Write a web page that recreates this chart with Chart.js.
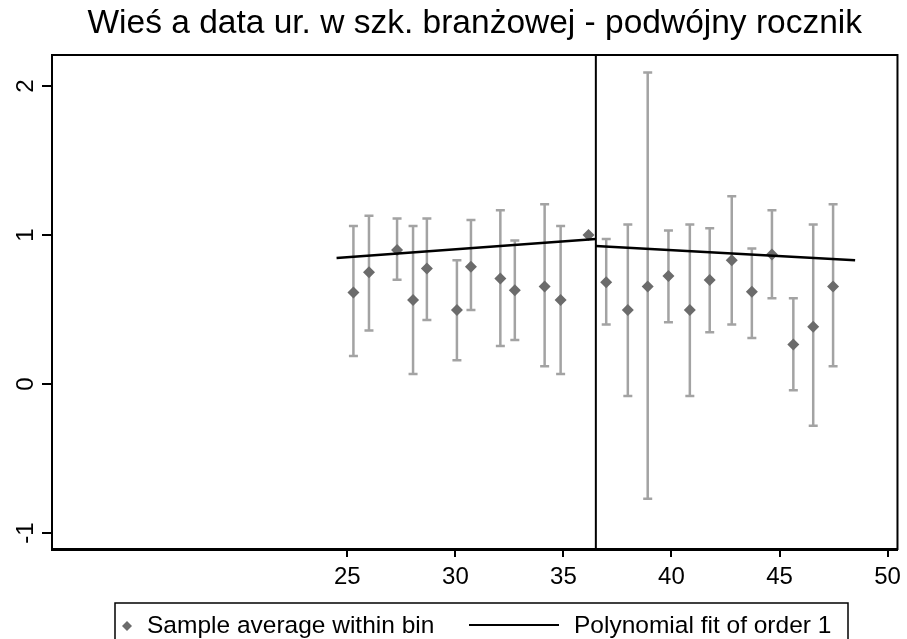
<!DOCTYPE html>
<html>
<head>
<meta charset="utf-8">
<script src="https://cdn.jsdelivr.net/npm/chart.js@4.4.1/dist/chart.umd.min.js"></script>
<style>
  html, body { margin: 0; padding: 0; background: #fff; }
  #wrap { width: 907px; height: 639px; }
</style>
</head>
<body>
<div id="wrap"><canvas id="rd-chart" width="907" height="639"></canvas></div>
<script>
// bin averages with their confidence bands
const binX = [25.28, 26.00, 27.30, 28.04, 28.68, 30.07, 30.72, 32.08, 32.75, 34.13, 34.87, 36.16,
              36.98, 37.98, 38.90, 39.86, 40.85, 41.77, 42.79, 43.72, 44.65, 45.64, 46.56, 47.48];
const binMean = [0.615, 0.75, 0.90, 0.564, 0.776, 0.497, 0.787, 0.709, 0.63, 0.655, 0.564, 1.0,
                 0.683, 0.497, 0.655, 0.725, 0.497, 0.698, 0.83, 0.62, 0.87, 0.266, 0.385, 0.655];
const ciLow = [0.188, 0.36, 0.70, 0.067, 0.43, 0.159, 0.497, 0.255, 0.295, 0.12, 0.067, 1.0,
               0.40, -0.08, -0.77, 0.414, -0.08, 0.347, 0.40, 0.309, 0.575, -0.042, -0.28, 0.12];
const ciHigh = [1.06, 1.13, 1.11, 1.06, 1.11, 0.83, 1.10, 1.166, 0.964, 1.206, 1.06, 1.0,
                0.973, 1.07, 2.09, 1.03, 1.07, 1.045, 1.26, 0.91, 1.166, 0.575, 1.07, 1.206];

// linear fits on each side of the cutoff
const fitLeftX = [24.5, 36.5];
const fitLeftY = [0.845, 0.973];
const fitRightX = [36.5, 48.5];
const fitRightY = [0.926, 0.83];
const cutoff = 36.5;

const xTicks = [25, 30, 35, 40, 45, 50];
const yTicks = [-1, 0, 1, 2];

const titleText = 'Wieś a data ur. w szk. branżowej - podwójny rocznik';
const legendLabels = ['Sample average within bin', 'Polynomial fit of order 1'];

const FONT = 'Liberation Sans, Arial, sans-serif';

const toPoints = (xs, ys) => xs.map((x, i) => ({ x: x, y: ys[i] }));

// grey whiskers with caps, plus the cutoff line
const errorBars = {
    id: 'errorBars',
    beforeDatasetsDraw(chart) {
        const { ctx, scales: { x, y }, chartArea } = chart;
        ctx.save();
        ctx.strokeStyle = '#a3a3a3';
        ctx.lineWidth = 2.5;
        binX.forEach((bx, i) => {
            if (ciLow[i] === ciHigh[i]) return;
            const px = x.getPixelForValue(bx);
            const top = y.getPixelForValue(ciHigh[i]);
            const bot = y.getPixelForValue(ciLow[i]);
            ctx.beginPath();
            ctx.moveTo(px, top);
            ctx.lineTo(px, bot);
            ctx.moveTo(px - 4.5, top);
            ctx.lineTo(px + 4.5, top);
            ctx.moveTo(px - 4.5, bot);
            ctx.lineTo(px + 4.5, bot);
            ctx.stroke();
        });
        const cx = x.getPixelForValue(cutoff);
        ctx.strokeStyle = '#000';
        ctx.lineWidth = 2;
        ctx.beginPath();
        ctx.moveTo(cx, chartArea.top);
        ctx.lineTo(cx, chartArea.bottom);
        ctx.stroke();
        ctx.restore();
    }
};

// plot frame, rotated y labels and the boxed legend
const decorations = {
    id: 'decorations',
    afterDraw(chart) {
        const { ctx, scales: { y }, chartArea } = chart;
        ctx.save();
        ctx.strokeStyle = '#000';
        ctx.lineWidth = 2;
        ctx.strokeRect(chartArea.left, chartArea.top,
                       chartArea.right - chartArea.left, chartArea.bottom - chartArea.top);

        ctx.fillStyle = '#000';
        ctx.font = '24px ' + FONT;
        ctx.textAlign = 'center';
        ctx.textBaseline = 'alphabetic';
        yTicks.forEach(v => {
            const py = y.getPixelForValue(v);
            ctx.save();
            ctx.translate(33, py);
            ctx.rotate(-Math.PI / 2);
            ctx.fillText(String(v), 0, 0);
            ctx.restore();
        });

        // legend
        ctx.lineWidth = 1.5;
        ctx.strokeRect(115, 603, 733, 60);
        ctx.fillStyle = '#6b6b6b';
        ctx.beginPath();
        ctx.moveTo(127, 621);
        ctx.lineTo(132, 626);
        ctx.lineTo(127, 631);
        ctx.lineTo(122, 626);
        ctx.closePath();
        ctx.fill();
        ctx.strokeStyle = '#000';
        ctx.lineWidth = 2;
        ctx.beginPath();
        ctx.moveTo(469, 625);
        ctx.lineTo(559, 625);
        ctx.stroke();
        ctx.fillStyle = '#000';
        ctx.font = '24.5px ' + FONT;
        ctx.textAlign = 'left';
        ctx.fillText(legendLabels[0], 147, 633);
        ctx.fillText(legendLabels[1], 574, 633);
        ctx.restore();
    }
};

new Chart(document.getElementById('rd-chart'), {
    type: 'scatter',
    data: {
        datasets: [
            {
                type: 'line',
                label: legendLabels[1],
                data: toPoints(fitLeftX, fitLeftY),
                borderColor: '#000',
                borderWidth: 2.5,
                pointRadius: 0,
                fill: false
            },
            {
                type: 'line',
                label: legendLabels[1],
                data: toPoints(fitRightX, fitRightY),
                borderColor: '#000',
                borderWidth: 2.5,
                pointRadius: 0,
                fill: false
            },
            {
                label: legendLabels[0],
                data: toPoints(binX, binMean),
                pointStyle: 'rectRot',
                pointRadius: 6,
                backgroundColor: '#6b6b6b',
                borderWidth: 0
            }
        ]
    },
    options: {
        responsive: false,
        animation: false,
        layout: { padding: { left: 0, right: 5, top: 0, bottom: 48 } },
        plugins: {
            legend: { display: false },
            tooltip: { enabled: false },
            title: {
                display: true,
                fullSize: false,
                text: titleText,
                color: '#000',
                font: { family: FONT, size: 33.5, weight: 'normal' },
                padding: { top: 4, bottom: 10.8 }
            }
        },
        scales: {
            x: {
                type: 'linear',
                min: 11.33,
                max: 50.46,
                afterBuildTicks: s => { s.ticks = xTicks.map(v => ({ value: v })); },
                afterFit: s => { s.height = 42; },
                ticks: {
                    color: '#000',
                    font: { family: FONT, size: 24 },
                    padding: 6,
                    maxRotation: 0,
                    autoSkip: false
                },
                grid: { drawOnChartArea: false, tickLength: 8, color: '#000', lineWidth: 2 },
                border: { display: true, color: '#000', width: 3 }
            },
            y: {
                type: 'linear',
                min: -1.107,
                max: 2.208,
                afterBuildTicks: s => { s.ticks = yTicks.map(v => ({ value: v })); },
                afterFit: s => { s.width = 52; },
                ticks: { display: false },
                grid: { drawOnChartArea: false, tickLength: 10, color: '#000', lineWidth: 2 },
                border: { display: true, color: '#000', width: 2 }
            }
        }
    },
    plugins: [errorBars, decorations]
});
</script>
</body>
</html>
